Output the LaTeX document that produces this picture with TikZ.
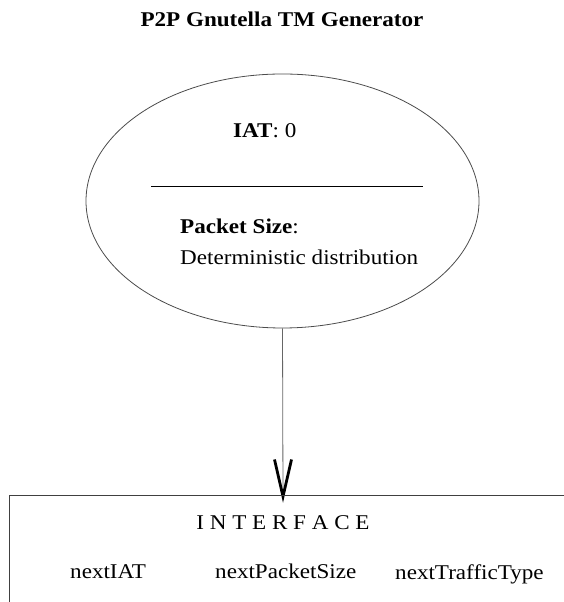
\documentclass[tikz,border=0pt]{standalone}
\usepackage{fontspec}
\setmainfont{Liberation Serif}[FakeStretch=1.1]
\usetikzlibrary{shapes.geometric,calc}
\tikzset{
  txt/.style={inner sep=0pt, font=\fontsize{21}{25}\selectfont},
  ttl/.style={inner sep=0pt, font=\fontsize{21}{25}\selectfont\bfseries},
  genshape/.style={draw=black!70, line width=0.8pt, ellipse, inner sep=0pt,
    minimum width=393pt, minimum height=254pt},
  conn/.style={draw=black!60, line width=0.8pt},
  vtip/.style={draw=black, line width=2.8pt, line join=miter, line cap=butt},
  boxline/.style={draw=black!75, line width=1.3pt}
}
\begin{document}
\begin{tikzpicture}[x=1pt,y=1pt]
\useasboundingbox (0,0) rectangle (564,602);
\node[ttl, anchor=base] (title) at (282,575.3) {P2P Gnutella TM Generator};
\node[genshape] (gen) at (282.5,401) {};
\node[txt, anchor=base west] (iat) at (233,464) {\textbf{IAT}: 0};
\coordinate (divl) at (151,416);
\coordinate (divr) at (423,416);
\draw[line width=0.9pt] (divl) -- (divr);
\node[txt, anchor=base west] (ps) at (180,368) {\textbf{Packet Size}:};
\node[txt, anchor=base west] (dd) at (180,337) {Deterministic distribution};
\coordinate (tip) at (283,105.5);
\draw[conn] (gen.south) -- (tip);
\draw[vtip] ($(tip)+(-8.5,37)$) -- (tip) -- ($(tip)+(8.5,37)$);
\coordinate (boxbl) at (9.5,0);
\coordinate (boxtr) at (564,106.3);
\draw[boxline] (boxbl) |- (boxtr);
\node[txt, anchor=base] (iface) at (283,72.7) {I N T E R F A C E};
\node[txt, anchor=base west] (niat) at (70,23.7) {nextIAT};
\node[txt, anchor=base west] (nps) at (215,23.7) {nextPacketSize};
\node[txt, anchor=base west] (ntt) at (395,22) {nextTrafficType};
\end{tikzpicture}
\end{document}
